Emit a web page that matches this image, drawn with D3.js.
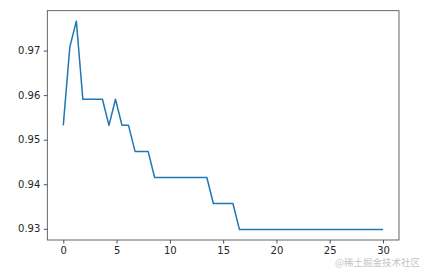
<!DOCTYPE html>
<html lang="en">
<head>
  <meta charset="UTF-8">
  <title>Accuracy</title>
  <style>
    body { margin: 0; background: #fff; }
    svg { display: block; }
    .tick text { font-family: 'DejaVu Sans', sans-serif; font-size: 10px; fill: #262626; }
    .tick line { stroke: #262626; stroke-width: 0.8; }
    .domain { display: none; }
  </style>
</head>
<body>
  <svg width="427" height="275"></svg>
  <script src="https://cdn.jsdelivr.net/npm/d3@7"></script>
  <script>
    // x = linspace(0, 30, 50); y = correct predictions out of 171 test samples
    var nPoints = 50
    var xMax = 30
    var correct = [163, 166, 167, 164, 164, 164, 164, 163, 164, 163,
                   163, 162, 162, 162, 161, 161, 161, 161, 161, 161,
                   161, 161, 161, 160, 160, 160, 160, 159, 159, 159,
                   159, 159, 159, 159, 159, 159, 159, 159, 159, 159,
                   159, 159, 159, 159, 159, 159, 159, 159, 159, 159]
    var total = 171
    var xTicks = [0, 5, 10, 15, 20, 25, 30]
    var yTicks = [0.93, 0.94, 0.95, 0.96, 0.97]

    var data = correct.map(function(c, i) {
      return { x: i * xMax / (nPoints - 1), y: c / total }
    })

    var svg = d3.select('svg')
    var plotLeft = 47.3, plotRight = 399, plotTop = 10.7, plotBottom = 240

    var yMin = d3.min(data, function(d) { return d.y })
    var yMax = d3.max(data, function(d) { return d.y })
    var pad = (yMax - yMin) * 0.05

    var x = d3.scaleLinear().domain([-1.5, 31.5]).range([plotLeft, plotRight])
    var y = d3.scaleLinear().domain([yMin - pad, yMax + pad]).range([plotBottom, plotTop])

    svg.append('g')
      .attr('transform', 'translate(0,' + plotBottom + ')')
      .call(d3.axisBottom(x).tickValues(xTicks).tickSize(3.5).tickPadding(3.5).tickFormat(d3.format('d')))

    svg.append('g')
      .attr('transform', 'translate(' + plotLeft + ',0)')
      .call(d3.axisLeft(y).tickValues(yTicks).tickSize(3.5).tickPadding(3.5).tickFormat(d3.format('.2f')))

    var line = d3.line()
      .x(function(d) { return x(d.x) })
      .y(function(d) { return y(d.y) })

    svg.append('path')
      .datum(data)
      .attr('fill', 'none')
      .attr('stroke', '#1f77b4')
      .attr('stroke-width', 1.5)
      .attr('stroke-linejoin', 'round')
      .attr('d', line)

    // frame
    svg.append('rect')
      .attr('x', plotLeft)
      .attr('y', plotTop)
      .attr('width', plotRight - plotLeft)
      .attr('height', plotBottom - plotTop)
      .attr('fill', 'none')
      .attr('stroke', '#404040')
      .attr('stroke-width', 0.8)

    // watermark
    svg.append('text')
      .attr('x', 420)
      .attr('y', 266)
      .attr('text-anchor', 'end')
      .attr('font-family', "'Noto Sans CJK SC', sans-serif")
      .attr('font-size', '9.5px')
      .attr('fill', '#c4c4c4')
      .text('@稀土掘金技术社区')
  </script>
</body>
</html>
